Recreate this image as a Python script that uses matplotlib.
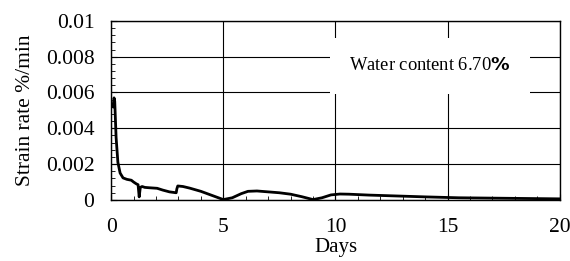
import numpy as np
import matplotlib
matplotlib.use("Agg")
import matplotlib.pyplot as plt
from matplotlib.ticker import MultipleLocator

# Data
days = [0.08, 0.13, 0.16, 0.22, 0.3, 0.4, 0.53, 0.7, 0.9, 1.0, 1.12, 1.2, 1.25, 1.3, 1.38,
        1.5, 1.7, 2.05, 2.3, 2.6, 2.9, 2.93, 2.97, 3.2, 3.5, 4.0, 4.5, 5.0, 5.4, 5.8,
        6.1, 6.5, 7.0, 7.5, 8.0, 8.5, 9.0, 9.4, 9.8, 10.2, 10.6, 11.5, 12.5, 14.0,
        15.5, 17.0, 18.5, 20.0]
strain_rate = [0.0052, 0.0057, 0.0055, 0.0035, 0.0021, 0.0015, 0.00123, 0.00115, 0.0011,
               0.001, 0.0009, 0.00085, 0.00017, 0.0007, 0.00075, 0.0007, 0.00068, 0.00065,
               0.00055, 0.00045, 0.0004, 0.00062, 0.00078, 0.00075, 0.00066, 0.00048,
               0.00025, 0.00002, 0.00012, 0.00035, 0.00048, 0.0005, 0.00045, 0.0004,
               0.00032, 0.00018, 0.00002, 0.00012, 0.00028, 0.00033, 0.00032, 0.00027,
               0.00023, 0.00017, 0.00012, 0.0001, 0.00008, 0.00006]

x_ticks = [0, 5, 10, 15, 20]
y_ticks = [0, 0.002, 0.004, 0.006, 0.008, 0.01]
y_labels = ["0", "0.002", "0.004", "0.006", "0.008", "0.01"]

plt.rcParams["font.family"] = ["Liberation Serif", "DejaVu Serif"]

fig = plt.figure(figsize=(5.7, 2.61), dpi=100)
ax = fig.add_axes([0.195, 0.234, 0.787, 0.686])

ax.plot(days, strain_rate, color="black", lw=2.0, solid_joinstyle="round")

ax.set_xlim(0, 20)
ax.set_ylim(0, 0.01)
ax.set_xticks(x_ticks)
ax.set_xticklabels([str(v) for v in x_ticks])
ax.set_yticks(y_ticks)
ax.set_yticklabels(y_labels)
ax.xaxis.set_minor_locator(MultipleLocator(1))
ax.yaxis.set_minor_locator(MultipleLocator(0.0004))
ax.tick_params(which="both", direction="in", labelsize=15.5, color="black")
ax.tick_params(which="major", length=4)
ax.tick_params(which="minor", length=3)
ax.tick_params(axis="y", pad=12)
ax.tick_params(axis="x", pad=13)
ax.grid(True, which="major", color="black", lw=0.8)

for s in ax.spines.values():
    s.set_color("black")
    s.set_linewidth(1.0)

ax.set_xlabel("Days", fontsize=15, labelpad=1)
ax.set_ylabel("Strain rate %/min", fontsize=15.5, labelpad=8)

ax.text(14.2, 0.0075, "Water content 6.70$\\mathbf{\\%}$", fontsize=13.3, va="center",
        ha="center", bbox=dict(facecolor="white", edgecolor="none", pad=14), zorder=5)

fig.savefig("out.png", dpi=100)
